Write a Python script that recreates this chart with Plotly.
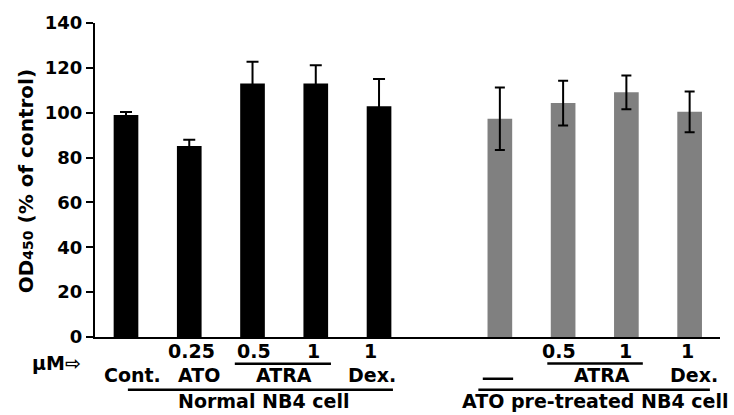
import plotly.graph_objects as go

# ---- data ----
normal_labels = ["Cont.", "ATO 0.25", "ATRA 0.5", "ATRA 1", "Dex. 1"]
normal_values = [99.0, 85.2, 113.0, 113.0, 102.9]
normal_err = [1.3, 2.8, 9.7, 8.2, 12.1]

pretreated_labels = ["—", "ATRA 0.5", "ATRA 1", "Dex. 1"]
pretreated_values = [97.3, 104.3, 109.1, 100.4]
pretreated_err = [13.9, 10.0, 7.5, 9.1]

y_ticks = [0, 20, 40, 60, 80, 100, 120, 140]

# ---- layout constants ----
GROUP2_OFFSET = 5.91
BAR_W = 0.39
FONT = "DejaVu Sans"
X0, X1 = -0.49, 9.39

x_normal = [i for i in range(len(normal_values))]
x_pre = [GROUP2_OFFSET + i for i in range(len(pretreated_values))]

fig = go.Figure()
fig.add_trace(go.Bar(
    x=x_normal, y=normal_values, width=BAR_W,
    marker=dict(color="#000000", line=dict(width=0)),
    error_y=dict(type="data", array=normal_err, color="#000000", thickness=2, width=6),
    hoverinfo="skip", name="Normal NB4 cell",
))
fig.add_trace(go.Bar(
    x=x_pre, y=pretreated_values, width=BAR_W,
    marker=dict(color="#808080", line=dict(width=0)),
    error_y=dict(type="data", array=pretreated_err, color="#000000", thickness=2, width=5),
    hoverinfo="skip", name="ATO pre-treated NB4 cell",
))

ann = []
def txt(x, y, s, size=19):
    ann.append(dict(x=(x - X0) / (X1 - X0), y=y, xref="paper", yref="paper", text=s,
                    showarrow=False, xanchor="center", yanchor="middle",
                    font=dict(family=FONT, size=size, color="black", weight="bold")))

row1, row2, row3 = -0.046, -0.120, -0.205
# Normal group
txt(1.03, row1, "0.25"); txt(2.02, row1, "0.5"); txt(2.96, row1, "1"); txt(3.87, row1, "1")
txt(0.10, row2, "Cont."); txt(1.16, row2, "ATO"); txt(2.50, row2, "ATRA"); txt(3.89, row2, "Dex.")
txt(2.17, row3, "Normal NB4 cell")
# Pre-treated group
txt(6.85, row1, "0.5"); txt(7.89, row1, "1"); txt(8.88, row1, "1")
txt(7.53, row2, "ATRA"); txt(8.98, row2, "Dex.")
txt(7.41, row3, "ATO pre-treated NB4 cell")
# unit marker
txt(-1.10, -0.083, "μM⇨")
# y title
ann.append(dict(x=-0.1104, y=0.496, xref="paper", yref="paper",
                text="OD<span style='font-size:14px'>450</span> (% of control)",
                textangle=-90, showarrow=False,
                xanchor="center", yanchor="middle",
                font=dict(family=FONT, size=20, color="black", weight="bold")))

shapes = []
def hline(x0, x1, y):
    shapes.append(dict(type="line", xref="x", yref="paper", x0=x0, x1=x1, y0=y, y1=y,
                       line=dict(color="black", width=2.5)))
hline(1.72, 3.24, -0.085)
hline(0.03, 4.22, -0.168)
hline(6.66, 8.17, -0.084)
hline(5.64, 6.12, -0.133)
hline(5.57, 9.23, -0.168)

fig.update_layout(
    width=734, height=415,
    margin=dict(l=95, r=14, t=19, b=78),
    paper_bgcolor="white", plot_bgcolor="white",
    showlegend=False, barmode="overlay",
    annotations=ann, shapes=shapes,
    font=dict(family=FONT, color="black"),
    xaxis=dict(range=[X0, X1], showgrid=False, zeroline=False, showticklabels=False,
               ticks="", showline=True, linecolor="black", linewidth=2, fixedrange=True),
    yaxis=dict(range=[0, 140], tickvals=y_ticks, showgrid=False, zeroline=False,
               showline=True, linecolor="black", linewidth=2,
               ticks="outside", ticklen=7, tickwidth=2, tickcolor="black",
               tickfont=dict(family=FONT, size=18, color="black", weight="bold")),
)

fig.write_html("out.html")
